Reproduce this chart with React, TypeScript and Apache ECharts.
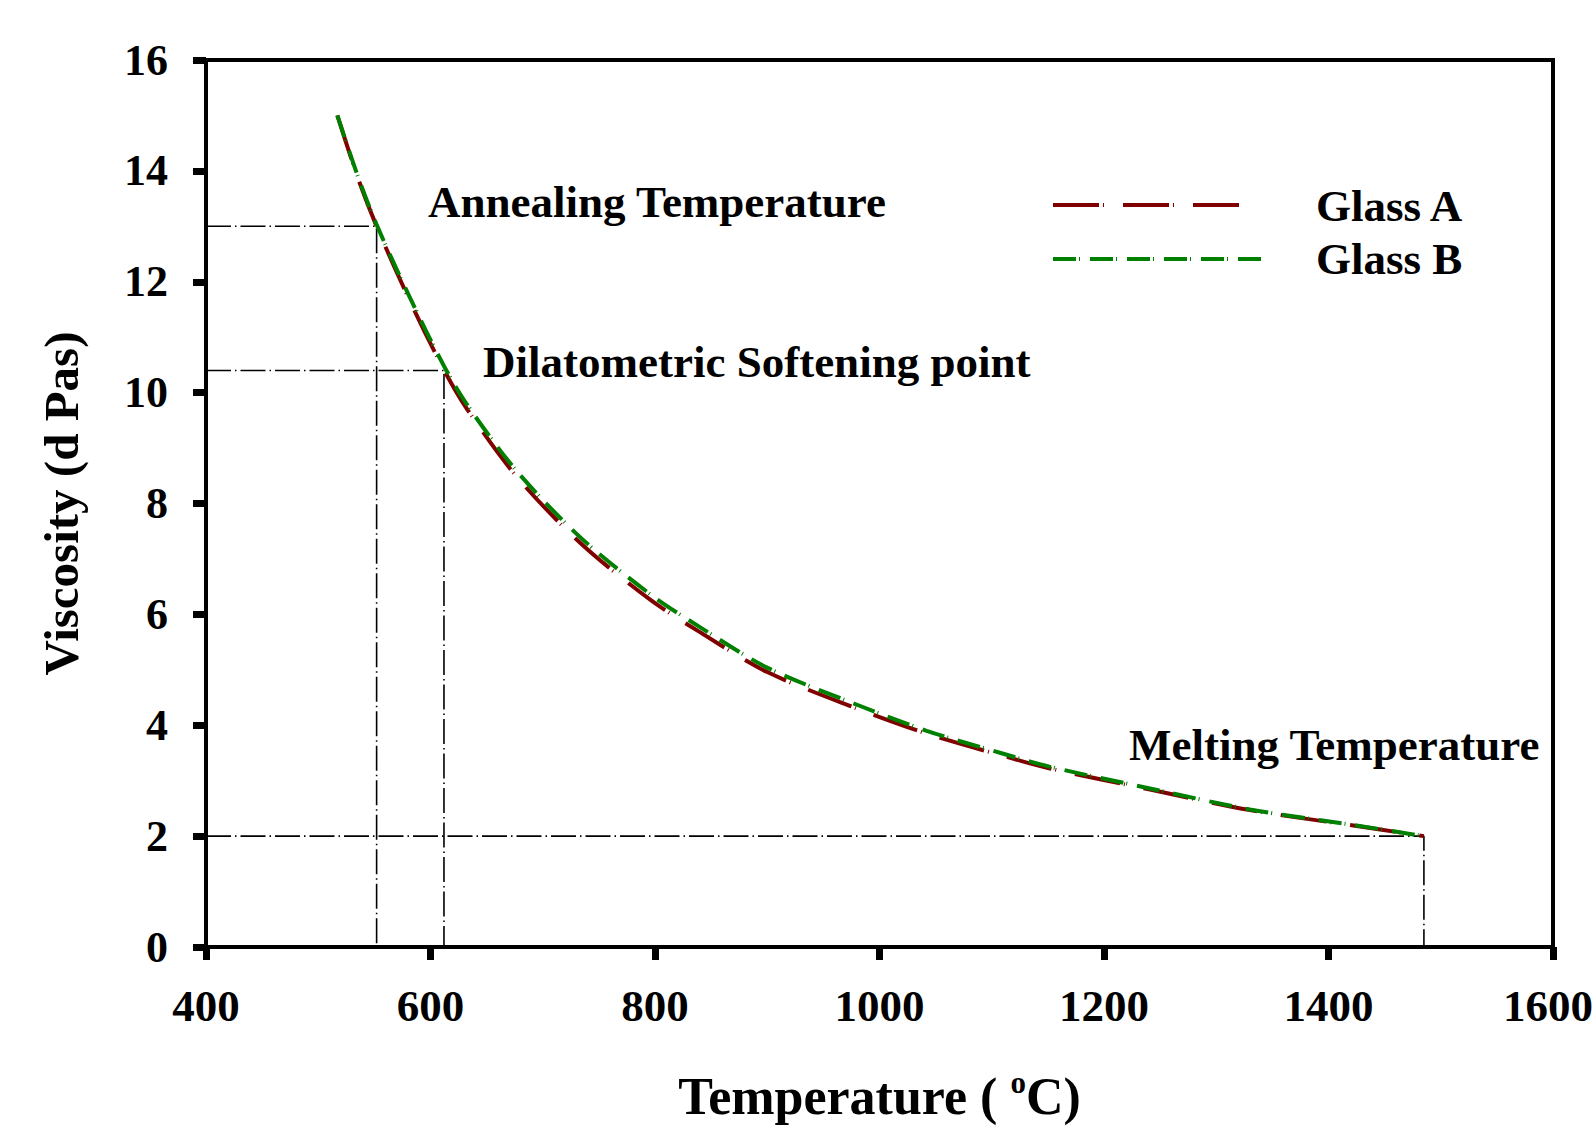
import React, { useEffect, useRef } from "react";
import * as echarts from "echarts";

// Temperature (°C) sampled along the curves
const temperatures = [517, 535, 552, 582, 612, 633, 677, 734, 796, 840, 900, 980, 1042, 1108, 1152, 1241, 1330, 1419, 1485];
// Viscosity (d Pas)
const glassA = [15.0, 13.89, 13.0, 11.64, 10.41, 9.69, 8.48, 7.28, 6.26, 5.68, 4.96, 4.3, 3.85, 3.46, 3.22, 2.84, 2.47, 2.2, 2.0];
const glassB = [15.0, 13.92, 13.03, 11.7, 10.48, 9.77, 8.58, 7.38, 6.36, 5.77, 5.04, 4.37, 3.9, 3.5, 3.25, 2.86, 2.48, 2.21, 2.0];

// Guide lines: [temperature, viscosity]
const annealingGuide = [[400, 13], [552, 13], [552, 0]];
const softeningGuide = [[400, 10.4], [612, 10.4], [612, 0]];
const meltingGuide = [[400, 2], [1485, 2], [1485, 0]];

const xTicks = { min: 400, max: 1600, interval: 200 };
const yTicks = { min: 0, max: 16, interval: 2 };

const FONT = "'Liberation Serif', 'Times New Roman', serif";

export default function App() {
  const ref = useRef<HTMLDivElement>(null);
  useEffect(() => {
    if (!ref.current) return;
    const chart = echarts.init(ref.current, null, { renderer: "svg" });
    const zip = (ys: number[]) => temperatures.map((t, i) => [t, ys[i]]);
    const guideStyle = { color: "#000", width: 1.6, type: [25, 4, 1.5, 4] as any };
    const guide = (name: string, data: number[][]) => ({
      name,
      type: "line",
      data,
      showSymbol: false,
      symbol: "none",
      silent: true,
      lineStyle: guideStyle,
      z: 1,
    });
    chart.setOption({
      animation: false,
      backgroundColor: "#fff",
      grid: {
        left: 206,
        right: 42,
        top: 60,
        bottom: 179,
        show: true,
        borderColor: "#000",
        borderWidth: 4,
        outerBoundsMode: "none",
        containLabel: false,
      },
      xAxis: {
        type: "value",
        min: xTicks.min,
        max: xTicks.max,
        interval: xTicks.interval,
        name: "Temperature ( {sup|o}C)",
        nameLocation: "middle",
        nameGap: 120,
        nameTextStyle: {
          fontFamily: FONT,
          fontWeight: "bold",
          fontSize: 52,
          color: "#000",
          rich: {
            sup: { fontFamily: FONT, fontWeight: "bold", fontSize: 31, color: "#000", verticalAlign: "top", padding: [0, 0, 27, 0] },
          },
        },
        axisLine: { show: true, onZero: false, lineStyle: { color: "#000", width: 4 } },
        axisTick: { show: true, inside: false, length: 13, lineStyle: { color: "#000", width: 7 } },
        axisLabel: {
          margin: 36,
          fontFamily: FONT,
          fontWeight: "bold",
          fontSize: 45,
          color: "#000",
          formatter: (v: number) => (v === xTicks.max ? `{last|${v}}` : String(v)),
          rich: {
            last: { fontFamily: FONT, fontWeight: "bold", fontSize: 45, color: "#000", padding: [0, 10, 0, 0] },
          },
        },
        splitLine: { show: false },
      },
      yAxis: {
        type: "value",
        min: yTicks.min,
        max: yTicks.max,
        interval: yTicks.interval,
        name: "Viscosity (d Pas)",
        nameLocation: "middle",
        nameGap: 120,
        nameRotate: 90,
        nameTextStyle: { fontFamily: FONT, fontWeight: "bold", fontSize: 49, color: "#000" },
        axisLine: { show: true, onZero: false, lineStyle: { color: "#000", width: 4 } },
        axisTick: { show: true, inside: false, length: 13, lineStyle: { color: "#000", width: 7 } },
        axisLabel: {
          margin: 38,
          fontFamily: FONT,
          fontWeight: "bold",
          fontSize: 44,
          color: "#000",
          formatter: (v: number) => String(v),
        },
        splitLine: { show: false },
      },
      series: [
        guide("Annealing guide", annealingGuide),
        guide("Softening guide", softeningGuide),
        guide("Melting guide", meltingGuide),
        {
          name: "Glass A",
          type: "line",
          data: zip(glassA),
          smooth: 0.3,
          showSymbol: false,
          symbol: "none",
          lineStyle: { color: "#800000", width: 4, type: [46, 4, 1, 19] as any },
          z: 3,
        },
        {
          name: "Glass B",
          type: "line",
          data: zip(glassB),
          smooth: 0.3,
          showSymbol: false,
          symbol: "none",
          lineStyle: { color: "#008000", width: 4, type: [23, 3, 1, 10] as any },
          z: 4,
        },
      ],
      graphic: [
        {
          type: "line",
          shape: { x1: 1053, y1: 205, x2: 1243, y2: 205 },
          style: { stroke: "#800000", lineWidth: 4, lineDash: [46, 4, 1, 19] },
        },
        {
          type: "line",
          shape: { x1: 1053, y1: 259, x2: 1263, y2: 259 },
          style: { stroke: "#008000", lineWidth: 4, lineDash: [23, 3, 1, 10] },
        },
        {
          type: "text",
          left: 1316,
          top: 207 - 24,
          style: { text: "Glass A", font: `bold 45px ${FONT}`, fill: "#000" },
        },
        {
          type: "text",
          left: 1316,
          top: 260 - 24,
          style: { text: "Glass B", font: `bold 45px ${FONT}`, fill: "#000" },
        },
        {
          type: "text",
          left: 428,
          top: 203 - 24,
          style: { text: "Annealing Temperature", font: `bold 45px ${FONT}`, fill: "#000" },
        },
        {
          type: "text",
          left: 483,
          top: 363 - 24,
          style: { text: "Dilatometric Softening point", font: `bold 45px ${FONT}`, fill: "#000" },
        },
        {
          type: "text",
          left: 1129,
          top: 746 - 24,
          style: { text: "Melting Temperature", font: `bold 45px ${FONT}`, fill: "#000" },
        },
      ],
    });
    return () => chart.dispose();
  }, []);
  return (
    <div
      ref={ref}
      style={{ position: "fixed", left: 0, top: 0, width: 1595, height: 1126, background: "#fff" }}
    />
  );
}
